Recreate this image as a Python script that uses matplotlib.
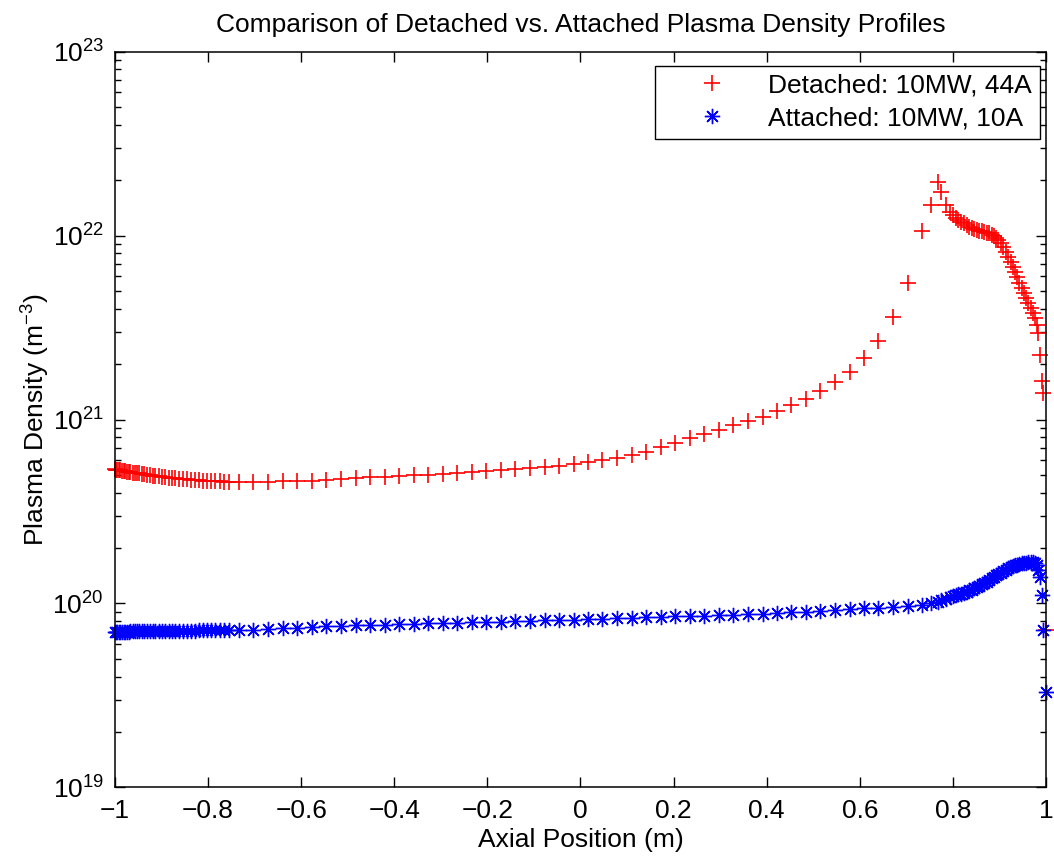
import matplotlib
matplotlib.use("Agg")
import matplotlib.pyplot as plt
import matplotlib.ticker as mticker
import numpy as np

################################
# 初期設定
plt.rcParams['font.family'] = ['Liberation Sans', 'DejaVu Sans']
plt.rcParams['mathtext.fontset'] = 'custom'
plt.rcParams['mathtext.rm'] = 'Liberation Sans'
plt.rcParams['mathtext.it'] = 'Liberation Sans:italic'
plt.rcParams['mathtext.bf'] = 'Liberation Sans:bold'
fs = 19

title = "Comparison of Detached vs. Attached Plasma Density Profiles"
xlabel = "Axial Position (m)"
ylabel = "Plasma Density (m$^{-3}$)"
labels = ["Detached: 10MW, 44A", "Attached: 10MW, 10A"]

xlim = [-1, 1]
ylim = [1e19, 1e23]
xticks = [-1, -0.8, -0.6, -0.4, -0.2, 0, 0.2, 0.4, 0.6, 0.8, 1]
xticklabels = ["\u22121", "\u22120.8", "\u22120.6", "\u22120.4", "\u22120.2", "0",
               "0.2", "0.4", "0.6", "0.8", "1"]
################################

# 軸方向位置 (m) 両端と0.75付近が細かいメッシュ
x_pos = [
    -1.0, -0.9979, -0.9957, -0.9921, -0.9886, -0.985, -0.9813, -0.9779, -0.9742, -0.9706,
    -0.9671, -0.962, -0.9577, -0.9527, -0.9478, -0.942, -0.9371, -0.9313, -0.9255, -0.919,
    -0.9134, -0.9061, -0.899, -0.8919, -0.8846, -0.8776, -0.8705, -0.8619, -0.8539, -0.8453,
    -0.8374, -0.8288, -0.8202, -0.8116, -0.8024, -0.7938, -0.7845, -0.7751, -0.7652, -0.7551,
    -0.733, -0.703, -0.671, -0.640, -0.608, -0.577, -0.547, -0.5145,
    -0.483, -0.452, -0.421, -0.389, -0.358, -0.327, -0.296, -0.265, -0.233, -0.202,
    -0.171, -0.140, -0.109, -0.077, -0.046, -0.015, 0.016, 0.047, 0.079, 0.110,
    0.141, 0.172, 0.203, 0.235, 0.266, 0.297, 0.328, 0.359, 0.391, 0.422,
    0.453, 0.484, 0.515, 0.547, 0.578, 0.609, 0.640, 0.671, 0.703, 0.734,
    0.7530, 0.7674, 0.7744, 0.7845, 0.7938, 0.8009, 0.8060, 0.8116, 0.8174, 0.8232,
    0.8296, 0.8352, 0.8404, 0.8460, 0.8511, 0.8567, 0.8619, 0.8674, 0.8726, 0.8776,
    0.8833, 0.8883, 0.8926, 0.8975, 0.9033, 0.9083, 0.9134, 0.9190, 0.9242, 0.9285,
    0.9334, 0.9384, 0.9427, 0.9478, 0.9527, 0.9570, 0.9620, 0.9671, 0.9714, 0.9764,
    0.9800, 0.9835, 0.9871, 0.9907, 0.9943, 1.0,
]

# Detached (x1e20 m^-3)
detached_e20 = [
    5.36, 5.34, 5.33, 5.31, 5.29, 5.27, 5.25, 5.23, 5.21, 5.19,
    5.17, 5.15, 5.13, 5.11, 5.09, 5.06, 5.04, 5.01, 4.99, 4.96,
    4.94, 4.91, 4.88, 4.86, 4.83, 4.81, 4.78, 4.76, 4.74, 4.72,
    4.70, 4.68, 4.67, 4.65, 4.64, 4.63, 4.62, 4.61, 4.60, 4.60,
    4.59, 4.59, 4.60, 4.61, 4.63, 4.66, 4.70, 4.76,
    4.81, 4.85, 4.89, 4.93, 4.98, 5.01, 5.06, 5.12, 5.17, 5.23,
    5.30, 5.36, 5.43, 5.52, 5.59, 5.71, 5.85, 6.03, 6.20, 6.41,
    6.65, 7.05, 7.45, 7.9, 8.3, 8.8, 9.3, 9.8, 10.35, 11.1,
    11.95, 12.9, 14.3, 16.0, 18.2, 21.6, 26.7, 36.2, 55.0, 106.0,
    146.5, 196.0, 173.0, 146.5, 134.7, 129.2, 125.0, 121.4, 118.9, 116.5,
    114.1, 111.6, 109.8, 108.5, 107.1, 106.2, 105.4, 104.5, 103.6, 102.8,
    100.6, 99.4, 97.3, 94.5, 90.7, 86.3, 81.7, 76.7, 72.1, 67.7,
    63.6, 59.3, 55.4, 51.6, 48.5, 45.6, 42.8, 40.2, 37.8, 35.5,
    32.6, 29.4, 22.4, 16.1, 14.0, 0.72,
]

# Attached (x1e19 m^-3)
attached_e19 = [
    7.00, 7.00, 7.01, 7.01, 7.02, 7.02, 7.03, 7.03, 7.04, 7.04,
    7.05, 7.05, 7.06, 7.06, 7.07, 7.07, 7.08, 7.08, 7.09, 7.09,
    7.10, 7.10, 7.10, 7.11, 7.11, 7.11, 7.12, 7.12, 7.12, 7.13,
    7.13, 7.13, 7.14, 7.14, 7.14, 7.15, 7.15, 7.15, 7.16, 7.16,
    7.17, 7.22, 7.27, 7.32, 7.37, 7.43, 7.50, 7.57,
    7.61, 7.64, 7.68, 7.72, 7.75, 7.79, 7.83, 7.86, 7.90, 7.94,
    7.98, 8.02, 8.06, 8.10, 8.14, 8.18, 8.22, 8.26, 8.30, 8.35,
    8.40, 8.45, 8.5, 8.55, 8.6, 8.65, 8.7, 8.76, 8.82, 8.88,
    8.95, 9.02, 9.1, 9.2, 9.3, 9.4, 9.5, 9.6, 9.7, 9.8,
    10.0, 10.2, 10.4, 10.6, 10.8, 11.0, 11.1, 11.2, 11.3, 11.4,
    11.6, 11.8, 11.9, 12.1, 12.3, 12.5, 12.7, 12.9, 13.1, 13.4,
    13.7, 14.0, 14.2, 14.4, 14.7, 15.0, 15.2, 15.5, 15.7, 15.9,
    16.1, 16.2, 16.4, 16.5, 16.6, 16.7, 16.8, 16.9, 16.9, 16.7,
    16.2, 15.3, 14.0, 11.1, 7.2, 3.3,
]

x = np.array(x_pos)
detached = np.array(detached_e20) * 1e20
attached = np.array(attached_e19) * 1e19

fig = plt.figure(figsize=(10.54, 8.63), dpi=100)
ax = fig.add_axes([0.1091, 0.0875, 0.8833, 0.8528])

# マーカーのみ (線なし)
ax.plot(x, detached, linestyle="none", marker="+", color="red",
        markersize=11, markeredgewidth=1.2, clip_on=False, label=labels[0])
ax.plot(x, attached, linestyle="none", marker=(8, 2, 0), color="blue",
        markersize=11, markeredgewidth=1.0, clip_on=False, label=labels[1])

ax.set_yscale("log")
ax.set_xlim(xlim[0], xlim[1])
ax.set_ylim(ylim[0], ylim[1])
ax.set_xticks(xticks)
ax.set_xticklabels(xticklabels)
ax.xaxis.set_minor_locator(mticker.NullLocator())
ax.yaxis.set_major_locator(mticker.LogLocator(base=10, numticks=10))
ax.yaxis.set_minor_locator(mticker.LogLocator(base=10, subs=np.arange(2, 10), numticks=10))
ax.yaxis.set_minor_formatter(mticker.NullFormatter())

# 目盛りは内向き・四辺
ax.tick_params(which="both", direction="in", top=True, right=True, labelsize=fs, width=1.0)
ax.tick_params(which="major", length=7)
ax.tick_params(which="minor", length=4.5)
ax.tick_params(axis="x", pad=8)
ax.tick_params(axis="y", pad=8)
for s in ax.spines.values():
    s.set_linewidth(1.1)

ax.set_xlabel(xlabel, size=fs, labelpad=4)
ax.set_ylabel(ylabel, size=fs, labelpad=0)
ax.set_title(title, size=fs, pad=14)

leg = ax.legend(loc="upper right", bbox_to_anchor=(0.9936, 0.9807), borderaxespad=0,
                fontsize=fs, numpoints=1, handlelength=3.7, handletextpad=0.3,
                borderpad=0.3, labelspacing=0.34, fancybox=False, framealpha=1)
leg.get_frame().set_edgecolor("black")
leg.get_frame().set_linewidth(1.0)

fig.savefig("out.png", dpi=100)
